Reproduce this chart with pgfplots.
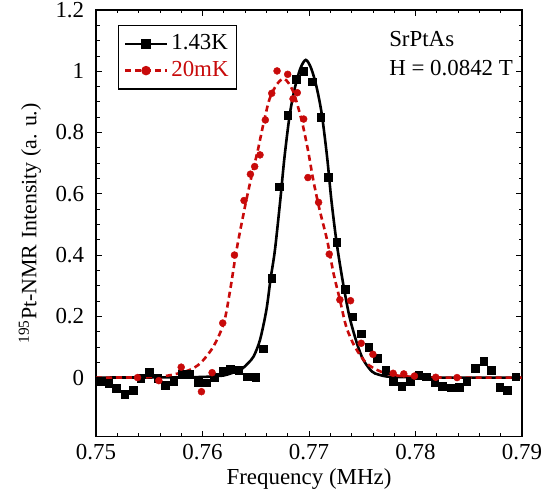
\documentclass[border=0pt]{standalone}
\usepackage{fontspec}
\setmainfont{Liberation Serif}
\usepackage{pgfplots}
\pgfplotsset{compat=1.18}
\definecolor{myred}{RGB}{200,10,10}
\newcommand{\bigf}{\fontsize{23}{27}\selectfont}
\begin{document}
\bigf
\begin{tikzpicture}
\path[use as bounding box] (0,0) rectangle (543bp,498bp);
\begin{axis}[
  at={(96bp,61.3bp)}, anchor=south west,
  scale only axis, width=426bp, height=426.7bp,
  xmin=0.75, xmax=0.79, ymin=-0.193, ymax=1.2,
  xtick={0.75,0.76,0.77,0.78,0.79},
  xticklabels={0.75,0.76,0.77,0.78,0.79},
  ytick={0,0.2,0.4,0.6,0.8,1,1.2},
  yticklabels={0,0.2,0.4,0.6,0.8,1,1.2},
  minor x tick num=4, minor y tick num=3,
  tick align=inside,
  major tick length=6bp, minor tick length=3.5bp,
  every tick/.style={black, line width=0.8bp},
  axis line style={line width=1.2bp},
  tick label style={font=\bigf},
  xticklabel style={yshift=0bp},
  yticklabel style={xshift=-4bp},
  xlabel={Frequency (MHz)},
  ylabel={\textsuperscript{195}Pt-NMR Intensity (a. u.)},
  xlabel style={at={(axis description cs:0.5,-0.113)}, anchor=base, font=\bigf},
  ylabel style={at={(axis description cs:-0.14,0.5)}, anchor=base, rotate=0, font=\fontsize{22}{26}\selectfont},
  legend style={at={(0.0516,0.965)}, anchor=north west, draw=black, line width=1.5bp,
    font=\bigf, inner xsep=5bp, inner ysep=7bp, row sep=4bp,
    nodes={inner ysep=2bp, inner xsep=3bp}},
  legend cell align=left,
  legend image code/.code={\draw[mark repeat=2,mark phase=2,#1] plot coordinates {(0bp,0bp) (21bp,0bp) (42bp,0bp)};},
]
\addlegendimage{black, line width=2.6bp, mark=square*, mark size=3.8bp, mark options={solid}}
\addlegendentry{1.43K}
\addlegendimage{myred, line width=2.6bp, dash pattern=on 6bp off 4bp, mark=*, mark size=3.4bp, mark options={solid}}
\addlegendentry{\textcolor{myred}{20mK}}

% fit curve 1.43K
\addplot[black, line width=2.6bp, smooth, forget plot] coordinates {
(0.750,0) (0.756,0.0005) (0.758,0.001) (0.760,0.002) (0.761,0.004) (0.762,0.007)
(0.7627,0.014) (0.7632,0.022) (0.7638,0.031) (0.7643,0.048) (0.7648,0.069) (0.7654,0.123)
(0.7660,0.221) (0.7664,0.324) (0.7668,0.416) (0.7673,0.578) (0.7677,0.72) (0.7682,0.86)
(0.7687,0.95) (0.7692,1.01) (0.7697,1.037) (0.7702,1.01) (0.7707,0.95) (0.7712,0.86)
(0.7717,0.72) (0.7721,0.58) (0.7726,0.439) (0.7732,0.308) (0.7738,0.199) (0.7745,0.112)
(0.7751,0.058) (0.7759,0.020) (0.7765,0.010) (0.7772,0.004) (0.778,0.002) (0.780,0.001)
(0.783,0) (0.790,0)};

% fit curve 20mK
\addplot[myred, line width=2.6bp, dash pattern=on 6bp off 4bp, smooth, forget plot] coordinates {
(0.750,0) (0.754,0.0005) (0.756,0.003) (0.757,0.008) (0.758,0.016) (0.7588,0.025)
(0.7598,0.047) (0.7610,0.10) (0.7620,0.178) (0.7626,0.286) (0.7632,0.417) (0.7640,0.56)
(0.7646,0.656) (0.7652,0.743) (0.7657,0.825) (0.7663,0.91) (0.7670,0.958) (0.7677,0.975)
(0.7685,0.935) (0.7693,0.841) (0.7699,0.743) (0.7704,0.645) (0.7710,0.547) (0.7717,0.449)
(0.7723,0.341) (0.7729,0.254) (0.7735,0.166) (0.7743,0.101) (0.7754,0.047) (0.7767,0.020)
(0.778,0.008) (0.780,0.002) (0.783,0) (0.790,0)};

% data 1.43K
\addplot[only marks, mark=square*, mark size=3.9bp, black, forget plot] coordinates {
(0.7504,-0.011) (0.7512,-0.018) (0.7519,-0.034) (0.7527,-0.053) (0.7535,-0.042)
(0.7542,-0.003) (0.7550,0.018) (0.7558,-0.002) (0.7565,-0.025) (0.7573,-0.013)
(0.7581,0.011) (0.7588,0.010) (0.7596,-0.014) (0.7604,-0.017) (0.7611,0.001)
(0.7619,0.020) (0.7626,0.028) (0.7634,0.023) (0.7642,0.003) (0.7650,0.000)
(0.7657,0.094) (0.7665,0.324) (0.7672,0.623) (0.7680,0.857) (0.7688,0.974)
(0.7695,1.000) (0.7703,0.966) (0.7711,0.850) (0.7718,0.654) (0.7726,0.441)
(0.7734,0.289) (0.7741,0.199) (0.7749,0.143) (0.7756,0.100) (0.7764,0.063)
(0.7772,0.025) (0.7779,-0.013) (0.7787,-0.029) (0.7795,-0.013) (0.7803,0.007)
(0.7810,0.003) (0.7818,-0.016) (0.7825,-0.028) (0.7833,-0.033) (0.7841,-0.031)
(0.7848,-0.011) (0.7856,0.031) (0.7864,0.054) (0.7871,0.023) (0.7879,-0.031)
(0.7886,-0.042) (0.7894,0.003)};

% data 20mK
\addplot[only marks, mark=*, mark size=3.5bp, myred, forget plot] coordinates {
(0.7539,0.000) (0.7559,-0.010) (0.7580,0.034) (0.7599,-0.046) (0.7609,0.016)
(0.7619,0.178) (0.7630,0.400) (0.7639,0.578) (0.7645,0.664) (0.7649,0.689)
(0.7654,0.727) (0.7659,0.841) (0.7665,0.928) (0.7670,1.001) (0.7680,0.990)
(0.7685,0.910) (0.7689,0.930) (0.7695,0.844) (0.7699,0.653) (0.7709,0.572)
(0.7719,0.403) (0.7729,0.254) (0.7739,0.251) (0.7749,0.112) (0.7760,0.076)
(0.7779,0.014) (0.7789,0.012) (0.7799,0.005) (0.7819,0.001) (0.7839,0.000)};

\node[anchor=base west, font=\bigf] at (axis cs:0.7768,1.080) {SrPtAs};
\node[anchor=base west, font=\bigf] at (axis cs:0.7768,0.985) {H = 0.0842 T};
\end{axis}
\end{tikzpicture}
\end{document}
